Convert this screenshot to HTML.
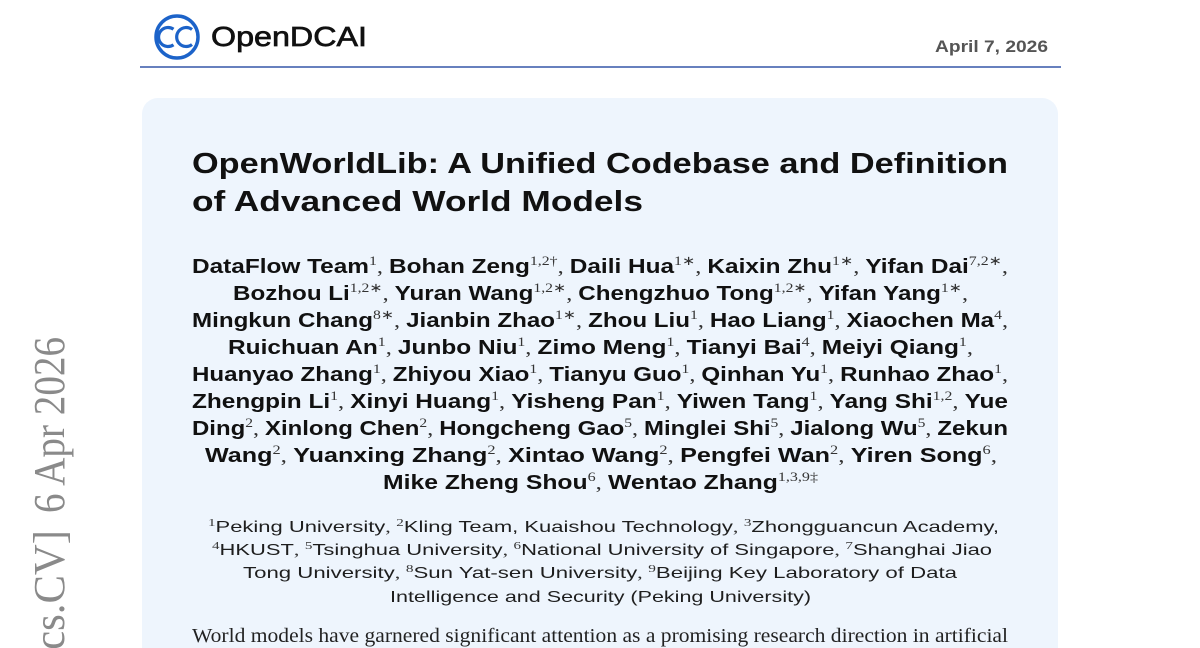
<!DOCTYPE html>
<html>
<head>
<meta charset="utf-8">
<style>
  html,body{margin:0;padding:0;background:#ffffff;}
  body{width:1200px;height:648px;overflow:hidden;}
  svg{display:block;}
  .au{font-family:"Liberation Sans",sans-serif;font-weight:bold;font-size:20px;fill:#111;}
  .sp{font-family:"Liberation Serif",serif;font-weight:normal;font-size:13px;fill:#333;}
  .cm{font-family:"Liberation Serif",serif;font-weight:normal;font-size:20px;fill:#333;}
  .af{font-family:"Liberation Sans",sans-serif;font-weight:normal;font-size:16px;fill:#1e1e1e;}
  .asp{font-family:"Liberation Serif",serif;font-size:11px;fill:#333;}
  .acm{font-family:"Liberation Serif",serif;font-size:16px;fill:#333;}
</style>
</head>
<body>
<svg width="1200" height="648" viewBox="0 0 1200 648" xmlns="http://www.w3.org/2000/svg">
  <!-- header logo -->
  <circle cx="177" cy="37" r="21" fill="none" stroke="#1c63c9" stroke-width="3.5"/>
  <path d="M173.5 29.2 A9.5 9.5 0 1 0 173.5 44.8" fill="none" stroke="#1c63c9" stroke-width="3.2"/>
  <path d="M192 29.5 A9.5 9.5 0 1 0 192 44.5" fill="none" stroke="#1c63c9" stroke-width="3.2"/>
  <text x="211" y="46" font-family="Liberation Sans, sans-serif" font-size="28" fill="#111" stroke="#111" stroke-width="0.7" textLength="156" lengthAdjust="spacingAndGlyphs">OpenDCAI</text>
  <text x="935" y="52" font-family="Liberation Sans, sans-serif" font-weight="bold" font-size="17" fill="#555" textLength="113" lengthAdjust="spacingAndGlyphs">April 7, 2026</text>
  <line x1="140" y1="67" x2="1061" y2="67" stroke="#3556a8" stroke-width="1.6"/>

  <!-- arXiv stamp -->
  <g transform="translate(64,0) rotate(-90)" font-family="Liberation Serif, serif" font-size="44" fill="#8a8a8a">
    <text x="-513" y="0" textLength="176" lengthAdjust="spacingAndGlyphs">6 Apr 2026</text>
    <text x="-664" y="0" textLength="134" lengthAdjust="spacingAndGlyphs">[cs.CV]</text>
  </g>

  <!-- card -->
  <path d="M142 648 V114 A16 16 0 0 1 158 98 H1042 A16 16 0 0 1 1058 114 V648 Z" fill="#eef5fd"/>

  <!-- title -->
  <text x="192" y="173" font-family="Liberation Sans, sans-serif" font-weight="bold" font-size="29" fill="#111" textLength="816" lengthAdjust="spacingAndGlyphs">OpenWorldLib: A Unified Codebase and Definition</text>
  <text x="192" y="211" font-family="Liberation Sans, sans-serif" font-weight="bold" font-size="29" fill="#111" textLength="451" lengthAdjust="spacingAndGlyphs">of Advanced World Models</text>

  <!-- authors -->
  <text class="au" x="192" y="273" textLength="816" lengthAdjust="spacingAndGlyphs">DataFlow Team<tspan class="sp" dy="-8">1</tspan><tspan class="cm" dy="8">, </tspan>Bohan Zeng<tspan class="sp" dy="-8">1,2†</tspan><tspan class="cm" dy="8">, </tspan>Daili Hua<tspan class="sp" dy="-8">1∗</tspan><tspan class="cm" dy="8">, </tspan>Kaixin Zhu<tspan class="sp" dy="-8">1∗</tspan><tspan class="cm" dy="8">, </tspan>Yifan Dai<tspan class="sp" dy="-8">7,2∗</tspan><tspan class="cm" dy="8">,</tspan></text>

  <text class="au" x="233" y="300" textLength="735" lengthAdjust="spacingAndGlyphs">Bozhou Li<tspan class="sp" dy="-8">1,2∗</tspan><tspan class="cm" dy="8">, </tspan>Yuran Wang<tspan class="sp" dy="-8">1,2∗</tspan><tspan class="cm" dy="8">, </tspan>Chengzhuo Tong<tspan class="sp" dy="-8">1,2∗</tspan><tspan class="cm" dy="8">, </tspan>Yifan Yang<tspan class="sp" dy="-8">1∗</tspan><tspan class="cm" dy="8">,</tspan></text>

  <text class="au" x="192" y="327" textLength="816" lengthAdjust="spacingAndGlyphs">Mingkun Chang<tspan class="sp" dy="-8">8∗</tspan><tspan class="cm" dy="8">, </tspan>Jianbin Zhao<tspan class="sp" dy="-8">1∗</tspan><tspan class="cm" dy="8">, </tspan>Zhou Liu<tspan class="sp" dy="-8">1</tspan><tspan class="cm" dy="8">, </tspan>Hao Liang<tspan class="sp" dy="-8">1</tspan><tspan class="cm" dy="8">, </tspan>Xiaochen Ma<tspan class="sp" dy="-8">4</tspan><tspan class="cm" dy="8">,</tspan></text>

  <text class="au" x="228" y="354" textLength="745" lengthAdjust="spacingAndGlyphs">Ruichuan An<tspan class="sp" dy="-8">1</tspan><tspan class="cm" dy="8">, </tspan>Junbo Niu<tspan class="sp" dy="-8">1</tspan><tspan class="cm" dy="8">, </tspan>Zimo Meng<tspan class="sp" dy="-8">1</tspan><tspan class="cm" dy="8">, </tspan>Tianyi Bai<tspan class="sp" dy="-8">4</tspan><tspan class="cm" dy="8">, </tspan>Meiyi Qiang<tspan class="sp" dy="-8">1</tspan><tspan class="cm" dy="8">,</tspan></text>

  <text class="au" x="192" y="381" textLength="816" lengthAdjust="spacingAndGlyphs">Huanyao Zhang<tspan class="sp" dy="-8">1</tspan><tspan class="cm" dy="8">, </tspan>Zhiyou Xiao<tspan class="sp" dy="-8">1</tspan><tspan class="cm" dy="8">, </tspan>Tianyu Guo<tspan class="sp" dy="-8">1</tspan><tspan class="cm" dy="8">, </tspan>Qinhan Yu<tspan class="sp" dy="-8">1</tspan><tspan class="cm" dy="8">, </tspan>Runhao Zhao<tspan class="sp" dy="-8">1</tspan><tspan class="cm" dy="8">,</tspan></text>

  <text class="au" x="192" y="408" textLength="816" lengthAdjust="spacingAndGlyphs">Zhengpin Li<tspan class="sp" dy="-8">1</tspan><tspan class="cm" dy="8">, </tspan>Xinyi Huang<tspan class="sp" dy="-8">1</tspan><tspan class="cm" dy="8">, </tspan>Yisheng Pan<tspan class="sp" dy="-8">1</tspan><tspan class="cm" dy="8">, </tspan>Yiwen Tang<tspan class="sp" dy="-8">1</tspan><tspan class="cm" dy="8">, </tspan>Yang Shi<tspan class="sp" dy="-8">1,2</tspan><tspan class="cm" dy="8">, </tspan>Yue</text>

  <text class="au" x="192" y="435" textLength="816" lengthAdjust="spacingAndGlyphs">Ding<tspan class="sp" dy="-8">2</tspan><tspan class="cm" dy="8">, </tspan>Xinlong Chen<tspan class="sp" dy="-8">2</tspan><tspan class="cm" dy="8">, </tspan>Hongcheng Gao<tspan class="sp" dy="-8">5</tspan><tspan class="cm" dy="8">, </tspan>Minglei Shi<tspan class="sp" dy="-8">5</tspan><tspan class="cm" dy="8">, </tspan>Jialong Wu<tspan class="sp" dy="-8">5</tspan><tspan class="cm" dy="8">, </tspan>Zekun</text>

  <text class="au" x="205" y="462" textLength="792" lengthAdjust="spacingAndGlyphs">Wang<tspan class="sp" dy="-8">2</tspan><tspan class="cm" dy="8">, </tspan>Yuanxing Zhang<tspan class="sp" dy="-8">2</tspan><tspan class="cm" dy="8">, </tspan>Xintao Wang<tspan class="sp" dy="-8">2</tspan><tspan class="cm" dy="8">, </tspan>Pengfei Wan<tspan class="sp" dy="-8">2</tspan><tspan class="cm" dy="8">, </tspan>Yiren Song<tspan class="sp" dy="-8">6</tspan><tspan class="cm" dy="8">,</tspan></text>

  <text class="au" x="383" y="489" textLength="435" lengthAdjust="spacingAndGlyphs">Mike Zheng Shou<tspan class="sp" dy="-8">6</tspan><tspan class="cm" dy="8">, </tspan>Wentao Zhang<tspan class="sp" dy="-8">1,3,9‡</tspan></text>

  <!-- affiliations -->
  <text class="af" x="208" y="532" textLength="791" lengthAdjust="spacingAndGlyphs"><tspan class="asp" dy="-6">1</tspan><tspan dy="6">Peking University</tspan><tspan class="acm">, </tspan><tspan class="asp" dy="-6">2</tspan><tspan dy="6">Kling Team, Kuaishou Technology</tspan><tspan class="acm">, </tspan><tspan class="asp" dy="-6">3</tspan><tspan dy="6">Zhongguancun Academy,</tspan></text>
  <text class="af" x="212" y="555" textLength="780" lengthAdjust="spacingAndGlyphs"><tspan class="asp" dy="-6">4</tspan><tspan dy="6">HKUST</tspan><tspan class="acm">, </tspan><tspan class="asp" dy="-6">5</tspan><tspan dy="6">Tsinghua University</tspan><tspan class="acm">, </tspan><tspan class="asp" dy="-6">6</tspan><tspan dy="6">National University of Singapore</tspan><tspan class="acm">, </tspan><tspan class="asp" dy="-6">7</tspan><tspan dy="6">Shanghai Jiao</tspan></text>
  <text class="af" x="243" y="578" textLength="714" lengthAdjust="spacingAndGlyphs">Tong University<tspan class="acm">, </tspan><tspan class="asp" dy="-6">8</tspan><tspan dy="6">Sun Yat-sen University</tspan><tspan class="acm">, </tspan><tspan class="asp" dy="-6">9</tspan><tspan dy="6">Beijing Key Laboratory of Data</tspan></text>
  <text class="af" x="390" y="602" textLength="421" lengthAdjust="spacingAndGlyphs">Intelligence and Security (Peking University)</text>

  <!-- abstract first line -->
  <text x="192" y="642" font-family="Liberation Serif, serif" font-size="19.5" fill="#222" textLength="816" lengthAdjust="spacingAndGlyphs">World models have garnered significant attention as a promising research direction in artificial</text>
</svg>
</body>
</html>
